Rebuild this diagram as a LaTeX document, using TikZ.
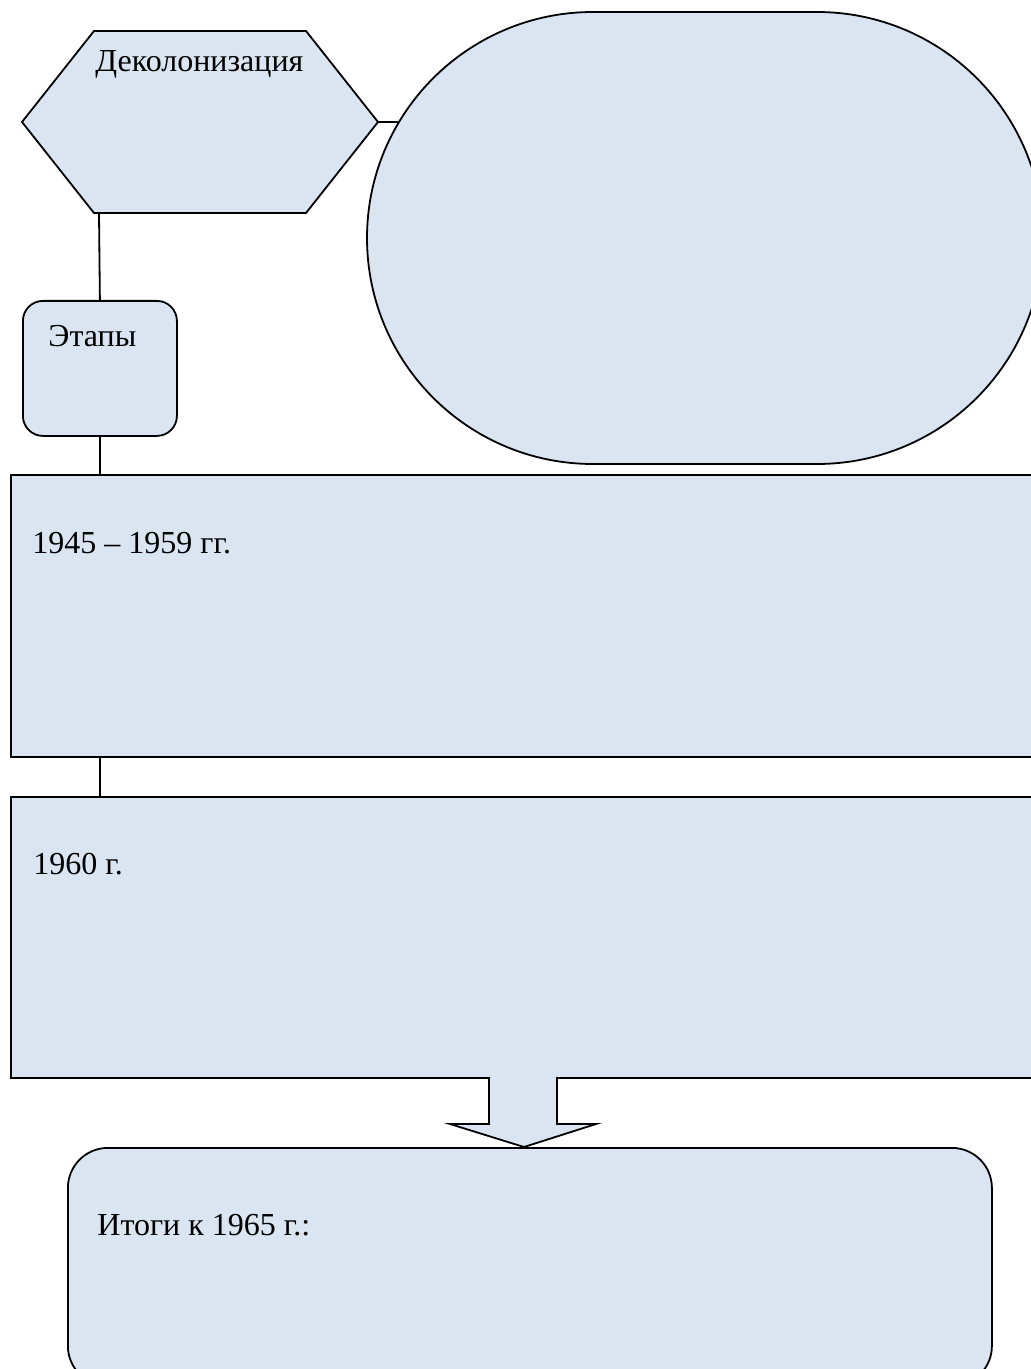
\documentclass[tikz,border=0pt]{standalone}
\usepackage{fontspec}
\setmainfont{Liberation Serif}
\usepackage{tikz}
\usetikzlibrary{positioning,shapes.misc,backgrounds}
\definecolor{boxfill}{RGB}{219,229,241}
\tikzset{
  box/.style={draw=black,fill=boxfill,line width=0.9pt},
  txt/.style={inner sep=0pt,font=\fontsize{16}{19}\selectfont},
  link/.style={draw=black,line width=0.9pt}
}
\begin{document}
\begin{tikzpicture}[x=0.5pt,y=-0.5pt]
\useasboundingbox (0,0) rectangle (1031,1369);
\clip (0,0) rectangle (1031,1369);
% hexagon
\draw[box] (94,31) -- (306,31) -- (378,122) coordinate (hexR)
    -- (306,213) -- (94,213) -- (22,122) -- cycle;
\coordinate (hexB) at (99,213);
\node[txt,anchor=base west] (decol) at (95,72) {Деколонизация};
\node[box,shape=rounded rectangle,rounded rectangle arc length=180,
      minimum width=338pt,minimum height=226pt,inner sep=0pt] (stad) at (705,238) {};
\node[box,rounded corners=10pt,minimum width=77pt,minimum height=67.5pt,
      anchor=north west,inner sep=0pt] (etapy) at (22,300) {};
\node[txt,anchor=base west] (etapyT) at (48,346) {Этапы};
% periods
\node[box,minimum width=517.5pt,minimum height=141pt,anchor=north west,inner sep=0pt] (per1) at (10,474) {};
\node[txt,anchor=base west] (per1T) at (32,553) {1945 – 1959 гг.};
\node[box,minimum width=517.5pt,minimum height=140.5pt,anchor=north west,inner sep=0pt] (per2) at (10,796) {};
\node[txt,anchor=base west] (per2T) at (33,874) {1960 г.};
\node[box,rounded corners=20pt,minimum width=462pt,minimum height=119pt,
      anchor=north west,inner sep=0pt] (itog) at (67,1147) {};
\node[txt,anchor=base west] (itogT) at (97,1235) {Итоги к 1965 г.:};
% block arrow
\draw[box] (489,1077) -- (489,1124) -- (450,1124) -- (524,1147)
    -- (596,1124) -- (557,1124) -- (557,1077);
\begin{scope}[on background layer]
  \draw[link] (hexR) -- (hexR -| stad.center);
  \draw[link] (hexB) -- (etapy.north);
  \draw[link] (etapy.south) -- (etapy.south |- per1.north);
  \draw[link] (per1.south -| etapy.south) -- (per2.north -| etapy.south);
\end{scope}
\end{tikzpicture}
\end{document}
